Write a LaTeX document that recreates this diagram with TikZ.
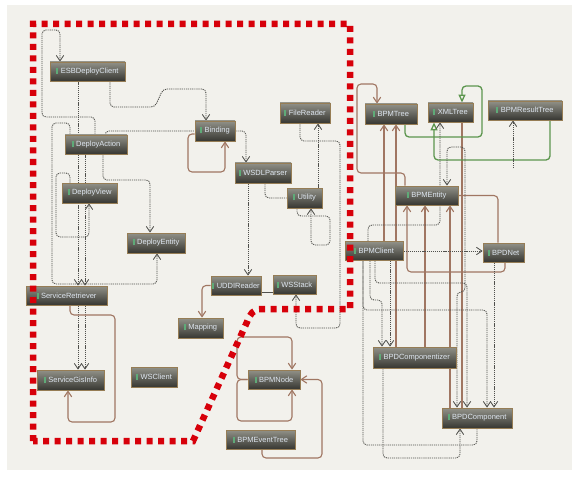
\documentclass[tikz,border=0pt]{standalone}
\usepackage{fontspec}
\newfontfamily\nodefont{Liberation Sans}
\usetikzlibrary{arrows.meta}
\pgfdeclarelayer{back}
\pgfdeclarelayer{bg}
\pgfsetlayers{back,bg,main}
\definecolor{bgc}{RGB}{242,241,236}
\definecolor{dotc}{RGB}{80,80,76}
\definecolor{brownc}{RGB}{160,118,98}
\definecolor{greenc}{RGB}{92,150,78}
\definecolor{redc}{RGB}{215,0,10}
\definecolor{ntop}{RGB}{145,145,136}
\definecolor{nbot}{RGB}{55,55,50}
\definecolor{nborder}{RGB}{150,125,85}
\definecolor{ntext}{RGB}{222,230,240}
\definecolor{iconc}{RGB}{95,170,120}
\newcommand\nicon{{\color{iconc}\rule[-0.5pt]{2pt}{6pt}}\hspace{2.5pt}}
\begin{document}
\begin{tikzpicture}[x=1pt,y=-1pt,
 nd/.style={rectangle, inner sep=0pt, top color=ntop, bottom color=nbot, draw=nborder, line width=0.8pt, text=ntext, font=\nodefont\fontsize{7.5}{8.5}\selectfont},
 dline/.style={draw=dotc, line width=0.85pt, dash pattern=on 1.2pt off 0.9pt, rounded corners=4pt},
 darr/.style={dline, -{Straight Barb[length=5.5pt,width=7.5pt]}},
 dboth/.style={dline, {Straight Barb[length=5.5pt,width=7.5pt]}-{Straight Barb[length=5.5pt,width=7.5pt]}},
 bline/.style={draw=brownc, line width=1.1pt, rounded corners=4pt},
 barr/.style={bline, -{Straight Barb[length=5.5pt,width=7.5pt]}},
 gline/.style={draw=greenc, line width=1.3pt, rounded corners=4pt},
 garr/.style={gline, -{Triangle[open, length=8pt, width=7pt, fill=bgc]}},
 redb/.style={draw=redc, line width=6.5pt, dash pattern=on 6pt off 5.5pt}
]
\useasboundingbox (0,0) rectangle (572,481);
\begin{pgfonlayer}{back}
\fill[white] (0,0) rectangle (572,481);
\fill[bgc] (7,5) rectangle (572,470);
\end{pgfonlayer}

% nodes
\node[nd, minimum width=75pt, minimum height=19pt] (ESB) at (87.5,71.5) {\nicon ESBDeployClient};
\node[nd, minimum width=62pt, minimum height=19pt] (DA) at (96,144.5) {\nicon DeployAction};
\node[nd, minimum width=40pt, minimum height=20pt] (BND) at (215,131) {\nicon Binding};
\node[nd, minimum width=55pt, minimum height=20pt] (DV) at (89.5,193) {\nicon DeployView};
\node[nd, minimum width=58pt, minimum height=20pt] (DE) at (156,243) {\nicon DeployEntity};
\node[nd, minimum width=56pt, minimum height=20pt] (WP) at (263,173) {\nicon WSDLParser};
\node[nd, minimum width=50pt, minimum height=20pt] (FR) at (305,113) {\nicon FileReader};
\node[nd, minimum width=35pt, minimum height=20pt] (UT) at (304.5,198) {\nicon Utility};
\node[nd, minimum width=81pt, minimum height=19pt] (SR) at (66.5,295.5) {\nicon ServiceRetriever};
\node[nd, minimum width=50pt, minimum height=19pt] (UR) at (236,285.5) {\nicon UDDIReader};
\node[nd, minimum width=43pt, minimum height=19pt] (WS) at (294.5,284.5) {\nicon WSStack};
\node[nd, minimum width=45pt, minimum height=20pt] (MP) at (200.5,328) {\nicon Mapping};
\node[nd, minimum width=67pt, minimum height=20pt] (SG) at (70.5,380) {\nicon ServiceGisInfo};
\node[nd, minimum width=46pt, minimum height=20pt] (WC) at (154,377) {\nicon WSClient};
\node[nd, minimum width=52pt, minimum height=19pt] (BN) at (274,379.5) {\nicon BPMNode};
\node[nd, minimum width=69pt, minimum height=19pt] (BE) at (260.5,439.5) {\nicon BPMEventTree};
\node[nd, minimum width=52pt, minimum height=20pt] (BT) at (391,114) {\nicon BPMTree};
\node[nd, minimum width=45pt, minimum height=19pt] (XT) at (450.5,112.5) {\nicon XMLTree};
\node[nd, minimum width=74pt, minimum height=19pt] (BR) at (525,110.5) {\nicon BPMResultTree};
\node[nd, minimum width=63pt, minimum height=19pt] (BY) at (426.5,195.5) {\nicon BPMEntity};
\node[nd, minimum width=58pt, minimum height=19pt] (BC) at (374,251) {\nicon BPMClient};
\node[nd, minimum width=41pt, minimum height=19pt] (BD) at (503.5,252.5) {\nicon BPDNet};
\node[nd, minimum width=83pt, minimum height=21pt] (BZ) at (414.5,357.5) {\nicon BPDComponentizer};
\node[nd, minimum width=70pt, minimum height=20pt] (BO) at (477,418) {\nicon BPDComponent};

\begin{pgfonlayer}{bg}
% left cluster
\draw[darr] (DA.north -| 95,0) |- (42,117) |- (60,30) -- (ESB.north -| 60,0);
\draw[darr] (ESB.south -| 110,0) |- (155,107) -- (163,89) -- (206,89) -- (BND.north -| 206,0);
\draw[darr] (ESB.south -| 78,0) -- (SR.north -| 78,0);
\draw[darr] (DA.south -| 85,0) -- (SR.north -| 85,0);
\draw[dline] (DA.north -| 105,0) |- (BND.west);
\draw[darr] (DA.south -| 103,0) |- (150,180) -- (DE.north -| 150,0);
\draw[darr] (DA.north -| 70,0) |- (52,123) |- (157,284) -- (DE.south -| 157,0);
\draw[darr] (DV.north -| 70,0) |- (56,173) |- (89,237) -- (DV.south -| 89,0);
\draw[darr] (SR.south -| 78,0) -- (SG.north -| 78,0);
\draw[darr] (SR.south -| 85,0) -- (SG.north -| 85,0);
\draw[barr] (SR.south -| 70,0) |- (115,315) |- (68,422) -- (SG.south -| 68,0);
\draw[barr] (BND.west |- 0,134) -- (188,134) |- (225,172) -- (BND.south -| 225,0);
\draw[darr] (BND.east) -| (WP.north -| 246,0);
\draw[darr] (WP.south -| 248,0) -- (UR.north -| 248,0);
\draw[dline] (WP.south -| 265,0) |- (UT.west);
\draw[darr] (UT.north -| 318,0) -- (FR.south -| 318,0);
\draw[darr] (FR.south -| 300,0) |- (340,141) |- (296,328) -- (WS.south -| 296,0);
\draw[darr] (UT.south -| 297,0) |- (330,216) |- (311,245) -- (UT.south -| 311,0);
\draw[barr] (UR.west) -| (MP.north -| 202,0);
\draw[draw=dotc, line width=0.8pt] (UR.east |- 0,292) -- (WS.west |- 0,292);
% BPMNode
\draw[barr] (BN.west) -- (237,379.5) |- (292,337) -- (BN.north -| 292,0);
\draw[barr] (BN.west) -- (237,379.5) |- (292,421) -- (BN.south -| 292,0);
\draw[barr] (BE.south -| 262,0) |- (322,458) |- (BN.east);
% right cluster, brown
\draw[barr] (BY.north -| 405,0) |- (357,173) |- (377,84) -- (BT.north -| 377,0);
\draw[barr] (BC.north -| 384,0) -- (BT.south -| 384,0);
\draw[barr] (BZ.north -| 396,0) -- (BT.south -| 396,0);
\draw[barr] (BD.south -| 505,0) |- (407,272) -- (BY.south -| 407,0);
\draw[barr] (BZ.north -| 425,0) -- (BY.south -| 425,0);
\draw[barr] (BO.north -| 450,0) -- (BY.south -| 450,0);
\draw[bline] (BY.east) -| (BD.north -| 498,0);
\draw[bline] (XT.south -| 462,0) -- (BO.north -| 462,0);
% green
\draw[garr] (BT.south -| 405,0) |- (482,137) |- (462,86) -- (XT.north -| 462,0);
\draw[garr] (BR.south -| 550,0) |- (434,160) -- (XT.south -| 434,0);
% right cluster, dotted
\draw[darr] (BC.east) -- (BD.west |- BC.east);
\draw[darr] (BD.south -| 494,0) -- (BO.north -| 494,0);
\draw[darr] (BC.south -| 363,0) |- (487,310) -- (BO.north -| 487,0);
\draw[dline] (BO.south -| 477,0) |- (363,445) -- (BC.south -| 363,0);
\draw[darr] (BC.south -| 375,0) |- (467,283) -- (BO.north -| 467,0);
\draw[darr] (BC.south -| 370,0) |- (382,300) -- (BZ.north -| 382,0);
\draw[darr] (BC.south -| 390,0) -- (BZ.north -| 390,0);
\draw[darr] (BZ.south -| 383,0) |- (460,458) -- (BO.south -| 460,0);
\draw[dboth] (BY.north -| 447,0) |- (465,147) |- (457,292) -- (BO.north -| 457,0);
\draw[darr] (BC.north -| 368,0) |- (440,225) -- (XT.south -| 440,0);
\coordinate (rt) at (513,168);
\draw[darr] (rt) -- (BR.south -| 513,0);
\end{pgfonlayer}

% red boundary
\draw[redb] (33,441) -- (33,24) -- (350,24) -- (350,309) -- (262,309) .. controls (253,309) and (250,314) .. (247,322) -- (193,441) -- cycle;
\end{tikzpicture}
\end{document}
